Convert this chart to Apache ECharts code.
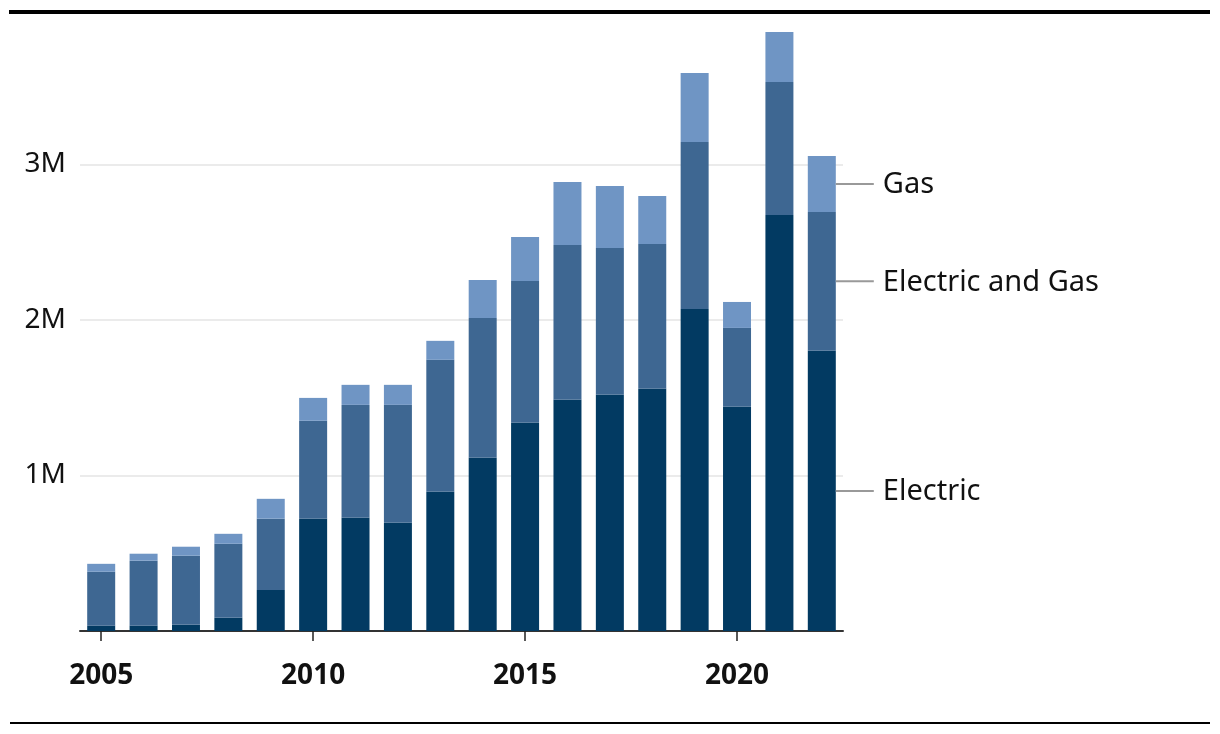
<!DOCTYPE html>
<html>
<head>
<meta charset="utf-8">
<script src="https://cdn.jsdelivr.net/npm/echarts@6/dist/echarts.min.js"></script>
<style>
  html, body { margin: 0; padding: 0; background: #fff; }
  #chart { width: 1220px; height: 734px; }
</style>
</head>
<body>
<div id="chart"></div>
<script>
const years = ['2005','2006','2007','2008','2009','2010','2011','2012','2013','2014','2015','2016','2017','2018','2019','2020','2021','2022'];
const electric = [34000, 34000, 40000, 85000, 264000, 722000, 728000, 696000, 895000, 1114000, 1339000, 1487000, 1519000, 1558000, 2071000, 1442000, 2675000, 1802000];
const electricAndGas = [347000, 418000, 444000, 476000, 458000, 630000, 726000, 758000, 849000, 899000, 912000, 996000, 944000, 931000, 1074000, 507000, 855000, 893000];
const gas = [51000, 45000, 58000, 64000, 128000, 147000, 129000, 129000, 122000, 245000, 283000, 405000, 399000, 308000, 443000, 167000, 322000, 360000];
const seriesNames = ['Electric', 'Electric and Gas', 'Gas'];
const colors = ['#023a62', '#3e6792', '#6f95c4'];

const FONT = 'Noto Sans';
const chart = echarts.init(document.getElementById('chart'), null, { renderer: 'canvas' });

function withEndLabel(values, name) {
  return values.map((v, i) => {
    if (i !== values.length - 1) return v;
    return {
      value: v,
      label: {
        show: true,
        position: 'right',
        distance: 0,
        formatter: '{l|}{t|' + name + '}',
        rich: {
          l: { width: 38, height: 2, backgroundColor: '#999' },
          t: { fontFamily: FONT, fontSize: 29, color: '#111', padding: [2, 0, 0, 9] }
        }
      }
    };
  });
}

const seriesData = [electric, electricAndGas, gas];
const series = seriesData.map((vals, k) => ({
  name: seriesNames[k],
  type: 'bar',
  stack: 'total',
  barWidth: 28,
  itemStyle: { color: colors[k] },
  emphasis: { disabled: true },
  data: withEndLabel(vals, seriesNames[k])
}));

chart.setOption({
  animation: false,
  backgroundColor: '#fff',
  textStyle: { fontFamily: FONT },
  grid: { left: 80, right: 377, top: 9, bottom: 103, containLabel: false },
  xAxis: {
    type: 'category',
    data: years,
    axisLine: { show: true, lineStyle: { color: '#333', width: 2 } },
    axisTick: { show: true, interval: 4, alignWithLabel: true, length: 10, lineStyle: { color: '#222', width: 1.5 } },
    axisLabel: { interval: 4, fontFamily: FONT, fontSize: 28, fontWeight: 'bold', color: '#111', margin: 31 },
    splitLine: { show: false }
  },
  yAxis: {
    type: 'value',
    min: 0,
    max: 4000000,
    interval: 1000000,
    axisLine: { show: false },
    axisTick: { show: false },
    axisLabel: {
      showMinLabel: false,
      showMaxLabel: false,
      fontFamily: FONT,
      fontSize: 28,
      color: '#111',
      margin: 14,
      padding: [5, 0, 0, 0],
      formatter: v => (v / 1000000) + 'M'
    },
    splitLine: { show: true, showMinLine: false, showMaxLine: false, lineStyle: { color: '#e4e4e4', width: 1.5 } }
  },
  graphic: [
    { type: 'rect', left: 9, top: 10, shape: { width: 1201, height: 4 }, style: { fill: '#000' }, silent: true },
    { type: 'rect', left: 10, top: 722, shape: { width: 1200, height: 2 }, style: { fill: '#000' }, silent: true }
  ],
  series: series
});
</script>
</body>
</html>
